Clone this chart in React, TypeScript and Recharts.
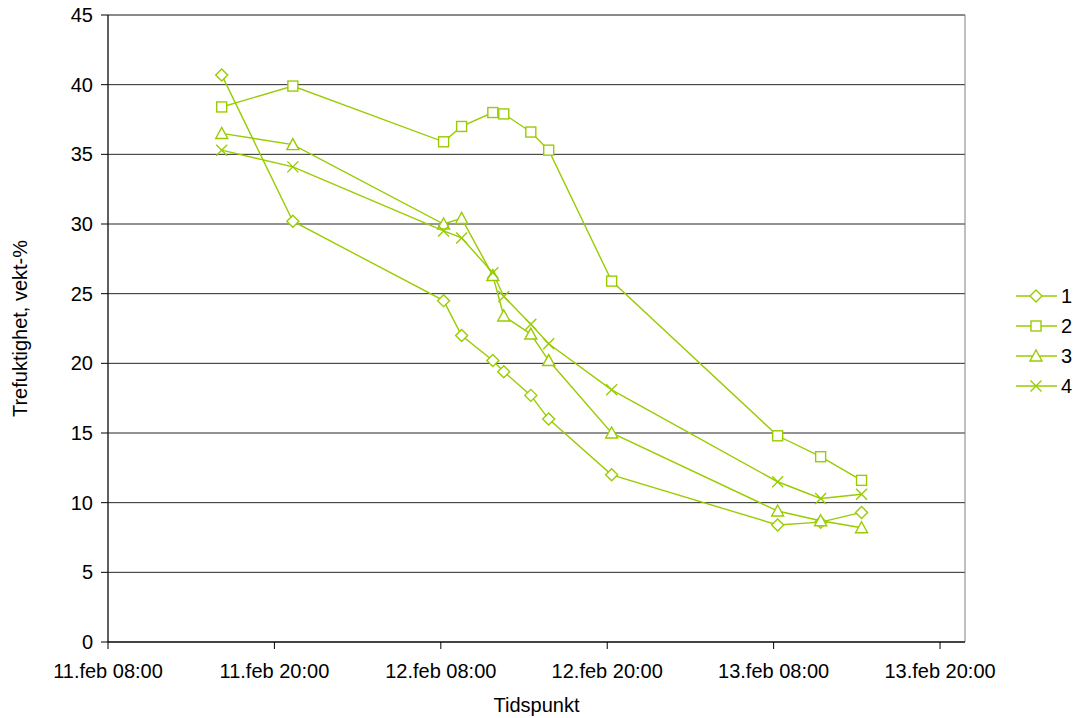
import React from 'react';
import {
  LineChart,
  Line,
  XAxis,
  YAxis,
  CartesianGrid,
  Legend,
  ReferenceArea,
} from 'recharts';

// hours counted from 11.feb 00:00
const timeHours = [16.2, 21.33, 32.2, 33.5, 35.75, 36.54, 38.49, 39.78, 44.32, 56.29, 59.39, 62.34];

const series1 = [40.7, 30.2, 24.5, 22.0, 20.2, 19.4, 17.7, 16.0, 12.0, 8.4, 8.6, 9.3];
const series2 = [38.4, 39.9, 35.9, 37.0, 38.0, 37.9, 36.6, 35.3, 25.9, 14.8, 13.3, 11.6];
const series3 = [36.5, 35.7, 30.0, 30.4, 26.3, 23.4, 22.1, 20.2, 15.0, 9.4, 8.7, 8.2];
const series4 = [35.3, 34.1, 29.5, 29.0, 26.5, 24.8, 22.8, 21.4, 18.1, 11.5, 10.3, 10.6];

const xTicks = [8, 20, 32, 44, 56, 68];
const yTicks = [0, 5, 10, 15, 20, 25, 30, 35, 40, 45];
const seriesNames = ['1', '2', '3', '4'];

const GREEN = '#99CC00';
const FONT = '"Liberation Sans", Arial, sans-serif';
const FS = 20;

const chartData = timeHours.map((t, i) => ({
  t,
  s1: series1[i],
  s2: series2[i],
  s3: series3[i],
  s4: series4[i],
}));

const formatTime = (h: number) => {
  const day = 11 + Math.floor(h / 24);
  const hr = Math.round(h % 24);
  return `${day}.feb ${String(hr).padStart(2, '0')}:00`;
};

type Shape = 'diamond' | 'square' | 'triangle' | 'cross';
const shapes: Shape[] = ['diamond', 'square', 'triangle', 'cross'];

function Marker({ cx, cy, shape }: { cx: number; cy: number; shape: Shape }) {
  const common = { fill: '#fff', stroke: GREEN, strokeWidth: 1.4 };
  if (shape === 'diamond') {
    return <path d={`M${cx},${cy - 6} L${cx + 6},${cy} L${cx},${cy + 6} L${cx - 6},${cy} Z`} {...common} />;
  }
  if (shape === 'square') {
    return <rect x={cx - 5} y={cy - 5} width={10} height={10} {...common} />;
  }
  if (shape === 'triangle') {
    return <path d={`M${cx},${cy - 6} L${cx + 6},${cy + 5} L${cx - 6},${cy + 5} Z`} {...common} />;
  }
  return (
    <path
      d={`M${cx - 5.5},${cy - 5.5} L${cx + 5.5},${cy + 5.5} M${cx - 5.5},${cy + 5.5} L${cx + 5.5},${cy - 5.5}`}
      stroke={GREEN}
      strokeWidth={1.4}
      fill="none"
    />
  );
}

const makeDot = (shape: Shape) => (props: any) => {
  const { cx, cy, index } = props;
  if (cx == null || cy == null) return <g key={`d-${shape}-${index}`} />;
  return <Marker key={`d-${shape}-${index}`} cx={cx} cy={cy} shape={shape} />;
};

function LegendBox() {
  return (
    <div style={{ fontFamily: FONT, fontSize: FS, lineHeight: 1 }}>
      {seriesNames.map((name, i) => (
        <div key={name} style={{ display: 'flex', alignItems: 'center', height: 30 }}>
          <svg width={44} height={20}>
            <line x1={2} y1={10} x2={43} y2={10} stroke={GREEN} strokeWidth={1.4} />
            <Marker cx={22} cy={10} shape={shapes[i]} />
          </svg>
          <span style={{ marginLeft: 3, color: '#000' }}>{name}</span>
        </div>
      ))}
    </div>
  );
}

export default function App() {
  return (
    <div style={{ position: 'absolute', left: 0, top: 0, width: 1078, height: 718, background: '#fff' }}>
      <LineChart
        width={1078}
        height={718}
        data={chartData}
        margin={{ top: 15, right: 113, left: 48, bottom: 36 }}
        style={{ fontFamily: FONT }}
      >
        <CartesianGrid horizontal vertical={false} stroke="#000" strokeOpacity={0.85} />
        <ReferenceArea x1={8} x2={69.8} y1={0} y2={45} fill="none" stroke="#808080" strokeWidth={1} ifOverflow="visible" />
        <XAxis
          dataKey="t"
          type="number"
          domain={[8, 69.8]}
          ticks={xTicks}
          tickFormatter={formatTime}
          allowDataOverflow
          height={40}
          stroke="#000"
          tickSize={7}
          tickMargin={15}
          tick={{ fill: '#000', fontSize: FS }}
          label={{
            content: (p: any) => {
              const vb = p.viewBox;
              return (
                <text x={vb.x + vb.width / 2} y={vb.y + vb.height + 30} textAnchor="middle" fontSize={FS} fill="#000">
                  Tidspunkt
                </text>
              );
            },
          }}
        />
        <YAxis
          type="number"
          domain={[0, 45]}
          ticks={yTicks}
          width={60}
          stroke="#000"
          tickSize={7}
          tickMargin={8}
          tick={{ fill: '#000', fontSize: FS }}
          label={{
            content: (p: any) => {
              const vb = p.viewBox;
              const x = vb.x - 21;
              const y = vb.y + vb.height / 2;
              return (
                <text x={x} y={y} transform={`rotate(-90, ${x}, ${y})`} textAnchor="middle" fontSize={FS} fill="#000">
                  Trefuktighet, vekt-%
                </text>
              );
            },
          }}
        />
        <Legend
          layout="vertical"
          align="center"
          verticalAlign="middle"
          content={() => <LegendBox />}
          wrapperStyle={{ left: 1014, top: 281, width: 64 }}
        />
        <Line dataKey="s1" name="1" stroke={GREEN} strokeWidth={1.4} dot={makeDot('diamond')} isAnimationActive={false} />
        <Line dataKey="s2" name="2" stroke={GREEN} strokeWidth={1.4} dot={makeDot('square')} isAnimationActive={false} />
        <Line dataKey="s3" name="3" stroke={GREEN} strokeWidth={1.4} dot={makeDot('triangle')} isAnimationActive={false} />
        <Line dataKey="s4" name="4" stroke={GREEN} strokeWidth={1.4} dot={makeDot('cross')} isAnimationActive={false} />
      </LineChart>
    </div>
  );
}
